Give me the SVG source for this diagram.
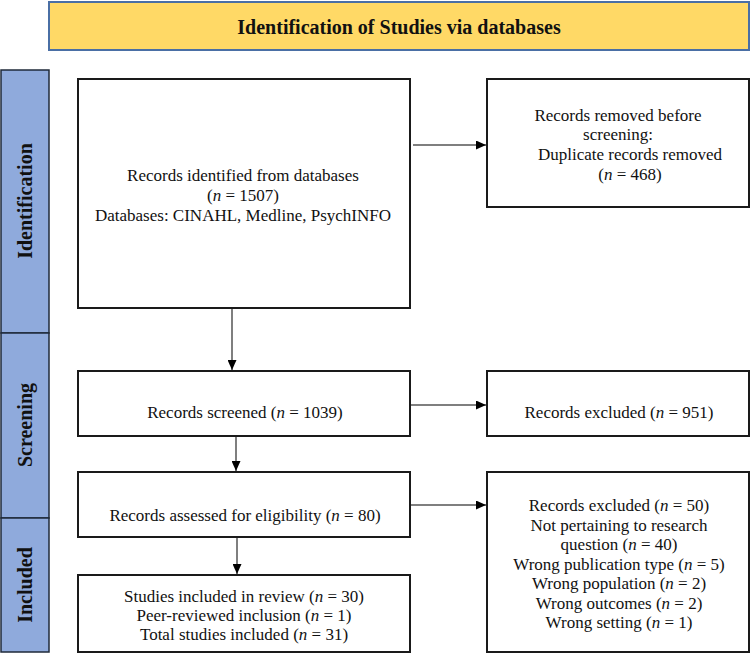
<svg xmlns="http://www.w3.org/2000/svg" width="751" height="654" viewBox="0 0 751 654">
<defs>
<marker id="ah" markerWidth="10" markerHeight="9" refX="10" refY="4.5" orient="auto" markerUnits="userSpaceOnUse">
<path d="M0,0 L10,4.5 L0,9 Z" fill="#000"/>
</marker>
<style>
.box{fill:#fff;stroke:#1a1a1a;stroke-width:2}
.t{font-family:"Liberation Serif","Times New Roman",serif;font-size:17px;fill:#111;text-anchor:middle}
.lab{font-family:"Liberation Serif","Times New Roman",serif;font-size:20px;font-weight:bold;fill:#111;text-anchor:middle}
.side{fill:#8FAADC;stroke:#1f2a3a;stroke-width:1.5}
.c{stroke:#555;stroke-width:1.5;fill:none;marker-end:url(#ah)}
i{font-style:italic}
</style>
</defs>
<rect width="751" height="654" fill="#fff"/>
<g id="title">
<rect x="49" y="2" width="700" height="48" fill="#FFD966" stroke="#4A6FA5" stroke-width="2"/>
<text x="399" y="34" class="lab">Identification of Studies via databases</text>
</g>
<g id="sidebar">
<rect x="1" y="70" width="48" height="263" class="side"/>
<rect x="1" y="333" width="48" height="185" class="side"/>
<rect x="1" y="518" width="48" height="134" class="side"/>
<text class="lab" transform="translate(32,201) rotate(-90)">Identification</text>
<text class="lab" transform="translate(32,425) rotate(-90)">Screening</text>
<text class="lab" transform="translate(32,585) rotate(-90)">Included</text>
</g>
<g id="identified">
<rect x="78" y="79" width="332" height="229" class="box"/>
<text class="t" x="243" y="181">Records identified from databases</text>
<text class="t" x="243" y="201">(<tspan font-style="italic">n</tspan> = 1507)</text>
<text class="t" x="243" y="221">Databases: CINAHL, Medline, PsychINFO</text>
</g>
<g id="removed">
<rect x="487" y="79" width="262" height="128" class="box"/>
<text class="t" x="618" y="121">Records removed before</text>
<text class="t" x="618" y="140">screening:</text>
<text class="t" x="630" y="160">Duplicate records removed</text>
<text class="t" x="630" y="180">(<tspan font-style="italic">n</tspan> = 468)</text>
</g>
<g id="screened">
<rect x="78" y="371" width="332" height="65" class="box"/>
<text class="t" x="245" y="418">Records screened (<tspan font-style="italic">n</tspan> = 1039)</text>
</g>
<g id="excluded1">
<rect x="487" y="371" width="262" height="65" class="box"/>
<text class="t" x="619" y="418">Records excluded (<tspan font-style="italic">n</tspan> = 951)</text>
</g>
<g id="eligibility">
<rect x="78" y="472" width="332" height="65" class="box"/>
<text class="t" x="245" y="521">Records assessed for eligibility (<tspan font-style="italic">n</tspan> = 80)</text>
</g>
<g id="excluded2">
<rect x="487" y="472" width="262" height="180" class="box"/>
<text class="t" x="619" y="511">Records excluded (<tspan font-style="italic">n</tspan> = 50)</text>
<text class="t" x="619" y="530.5">Not pertaining to research</text>
<text class="t" x="619" y="550">question (<tspan font-style="italic">n</tspan> = 40)</text>
<text class="t" x="619" y="569.5">Wrong publication type (<tspan font-style="italic">n</tspan> = 5)</text>
<text class="t" x="619" y="589">Wrong population (<tspan font-style="italic">n</tspan> = 2)</text>
<text class="t" x="619" y="608.5">Wrong outcomes (<tspan font-style="italic">n</tspan> = 2)</text>
<text class="t" x="619" y="628">Wrong setting (<tspan font-style="italic">n</tspan> = 1)</text>
</g>
<g id="included">
<rect x="78" y="575" width="332" height="77" class="box"/>
<text class="t" x="244" y="602">Studies included in review (<tspan font-style="italic">n</tspan> = 30)</text>
<text class="t" x="244" y="621">Peer-reviewed inclusion (<tspan font-style="italic">n</tspan> = 1)</text>
<text class="t" x="244" y="640">Total studies included (<tspan font-style="italic">n</tspan> = 31)</text>
</g>
<g id="connectors">
<line class="c" x1="413" y1="145" x2="486" y2="145"/>
<line class="c" x1="232" y1="309" x2="232" y2="370"/>
<line class="c" x1="411" y1="405" x2="486" y2="405"/>
<line class="c" x1="236" y1="437" x2="236" y2="471"/>
<line class="c" x1="411" y1="505" x2="486" y2="505"/>
<line class="c" x1="237" y1="538" x2="237" y2="574"/>
</g>
</svg>
